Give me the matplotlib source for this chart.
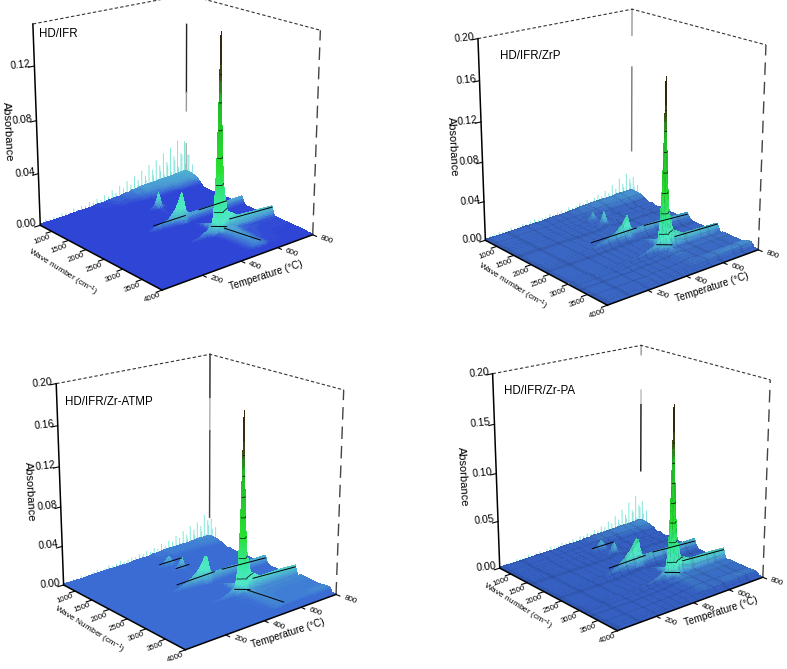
import numpy as np
import matplotlib
matplotlib.use('Agg')
import matplotlib.pyplot as plt
from matplotlib.colors import LinearSegmentedColormap
from mpl_toolkits.mplot3d import proj3d

plt.rcParams['font.family'] = ['Liberation Sans', 'DejaVu Sans']
plt.rcParams['mathtext.fontset'] = 'custom'
plt.rcParams['mathtext.rm'] = 'Liberation Sans'
plt.rcParams['mathtext.default'] = 'regular'

W, H = 787, 669
WMIN = 650

## shared grids
wave_grid = [650, 900, 1050, 1150, 1240, 1330, 1440, 1500, 1560, 2130, 2200, 2250, 2300, 2370, 2900, 2960, 3000, 3030,
             3060, 3100, 3160, 3300, 3600, 3800, 3860, 3900, 4000]
temp_grid = [0, 100, 200, 260, 300, 340, 380, 420, 450, 462, 472, 482, 490, 500, 512, 535, 590, 680, 720, 790, 800]
wave_ticks = [1000, 1500, 2000, 2500, 3000, 3500, 4000]
temp_ticks = [200, 400, 600, 800]

## cross sections of the bands along the wave number axis
edge_waves, edge_shape = [650, 900, 1050, 1240], [1.0, 0.85, 0.5, 0.1]
ester_waves, ester_shape = [1150, 1240, 1330], [0.2, 1.0, 0.2]
carb_waves, carb_shape = [1440, 1500, 1560], [0.25, 1.0, 0.25]
co2_waves, co2_shape = [2130, 2200, 2250, 2300, 2370], [0.1, 0.5, 1.0, 0.5, 0.1]
main_waves, main_shape = [2900, 2960, 3000, 3030, 3060, 3100, 3160], [0.06, 0.22, 0.65, 1.0, 0.65, 0.22, 0.06]
band_waves, band_shape = [3160, 3300, 3600, 3800, 3860, 3900], [1.0, 0.85, 0.75, 0.7, 0.7, 0.0]
water_waves, water_shape = [3600, 3800, 3860, 3900], [0.4, 1.0, 0.9, 0.1]

## HD/IFR, rows follow temp_grid
edge_1 = [.001, .001, .002, .002, .003, .003, .004, .004, .005, .005, .005, .006, .006, .006, .006, .007, .007, .008, .008, .009, .009]
ester_1 = [0, 0, 0, 0, 0, 0, 0, 0, 0, 0, 0, 0, 0, 0, 0, 0, 0, 0, 0, 0, 0]
carb_1 = [0, 0, 0, 0, 0, 0, .001, .003, .006, .010, .015, .010, .005, .004, .003, .002, .002, .002, .001, .001, .001]
co2_1 = [0, 0, .001, .002, .005, .006, .008, .015, .026, .018, .011, .009, .008, .008, .008, .008, .008, .008, .008, .008, .001]
main_1 = [.0005, .0005, .001, .001, .002, .003, .004, .007, .010, .018, .040, .085, .150, .085, .040, .018, .012, .011, .011, .010, .001]
band_1 = [0, 0, 0, 0, 0, 0, 0, .001, .002, .003, .004, .005, .006, .007, .008, .008, .004, .003, .003, .003, .001]
water_1 = [0, 0, 0, 0, 0, 0, 0, 0, 0, 0, 0, 0, 0, 0, 0, 0, 0, 0, 0, 0, 0]
spikes_1 = [.002, .004, .003, .004, .003, .005, .004, .004, .006, .004, .006, .005, .007, .006, .008, .006, .009, .007,
            .011, .008, .013, .010, .015, .011, .017, .013, .020, .015, .023, .018, .025, .020, .029, .021, .032, .024,
            .036, .025, .034, .022]
lines_1 = [(2250, 2250, 300, 470, .007, .007), (2250, 2250, 545, 700, .008, .008), (3030, 3030, 550, 790, .011, .009),
           (3030, 3200, 450, 496, .010, .010), (3100, 3860, 505, 535, .007, .007)]

## HD/IFR/ZrP
edge_2 = [.001, .001, .002, .002, .002, .003, .003, .003, .004, .004, .004, .004, .005, .005, .005, .005, .006, .006, .007, .007, .007]
ester_2 = [0, 0, 0, 0, 0, 0, .001, .003, .007, .011, .007, .003, .002, .002, .002, .002, .002, .002, .002, .002, .002]
carb_2 = [0, 0, 0, 0, 0, .001, .001, .002, .005, .010, .016, .010, .005, .004, .003, .003, .003, .003, .003, .003, .002]
co2_2 = [0, .001, .002, .003, .006, .008, .011, .017, .026, .017, .012, .010, .010, .010, .010, .010, .010, .010, .010, .009, .002]
main_2 = [.002, .002, .002, .003, .003, .004, .005, .008, .011, .020, .044, .090, .172, .090, .044, .020, .013, .012, .012, .011, .002]
band_2 = [.001, .001, .001, .001, .002, .002, .002, .003, .003, .004, .004, .005, .005, .005, .005, .004, .004, .004, .004, .004, .003]
water_2 = [.001, .001, .001, .001, .001, .001, .001, .001, .001, .001, .002, .002, .002, .002, .003, .004, .005, .006, .006, .007, .004]
spikes_2 = [.003, .004, .004, .005, .004, .004, .006, .004, .005, .006, .004, .006, .007, .005, .006, .006, .008, .006,
            .007, .008, .006, .009, .007, .008, .010, .008, .011, .008, .011, .013, .010, .015, .011, .019, .014, .024,
            .017, .027, .020, .021]
lines_2 = [(2250, 2250, 260, 500, .010, .010), (2250, 2250, 545, 790, .010, .007), (3030, 3030, 550, 790, .012, .010),
           (3030, 3200, 450, 496, .010, .010)]

## HD/IFR/Zr-ATMP
edge_3 = [.001, .001, .002, .002, .002, .002, .003, .003, .003, .003, .004, .004, .004, .004, .004, .005, .005, .005, .006, .006, .006]
ester_3 = [0, 0, 0, 0, 0, .001, .002, .006, .013, .010, .006, .005, .004, .003, .002, .002, .002, .002, .002, .002, .002]
carb_3 = [0, 0, 0, 0, 0, 0, .001, .003, .007, .011, .015, .009, .005, .004, .003, .003, .002, .002, .002, .002, .002]
co2_3 = [0, 0, .001, .003, .005, .008, .012, .019, .030, .028, .017, .012, .011, .011, .011, .011, .011, .011, .011, .011, .002]
main_3 = [.001, .001, .002, .002, .003, .004, .005, .008, .012, .022, .046, .095, .182, .095, .046, .022, .015, .015, .015, .014, .002]
band_3 = [.001, .001, .001, .001, .001, .002, .002, .003, .004, .004, .005, .006, .007, .007, .008, .007, .006, .006, .006, .006, .005]
water_3 = [0, 0, 0, 0, 0, 0, 0, 0, 0, .001, .001, .001, .002, .002, .003, .004, .005, .005, .006, .006, .005]
spikes_3 = [.003, .003, .004, .003, .005, .004, .003, .005, .006, .004, .005, .007, .005, .006, .008, .006, .007, .008,
            .007, .009, .008, .010, .008, .011, .009, .013, .010, .014, .012, .017, .014, .020, .015, .023, .018, .025,
            .020, .031, .024, .025]
lines_3 = [(2250, 2250, 300, 500, .010, .011), (2250, 2250, 545, 790, .011, .008), (3030, 3030, 550, 790, .015, .012),
           (1240, 1240, 400, 520, .007, .007), (1500, 1500, 440, 510, .005, .005), (3030, 3200, 450, 496, .010, .010),
           (3100, 3860, 505, 535, .007, .007)]

## HD/IFR/Zr-PA
edge_4 = [.001, .001, .002, .002, .002, .003, .003, .003, .003, .004, .004, .004, .004, .004, .005, .005, .005, .006, .006, .007, .007]
ester_4 = [0, 0, 0, 0, .001, .001, .002, .006, .013, .010, .006, .004, .003, .003, .002, .002, .002, .002, .002, .002, .002]
carb_4 = [0, 0, 0, 0, 0, 0, .001, .003, .006, .010, .014, .009, .005, .004, .003, .003, .003, .003, .002, .002, .002]
co2_4 = [0, 0, .001, .003, .005, .008, .014, .022, .032, .030, .019, .013, .012, .012, .012, .012, .012, .012, .012, .012, .002]
main_4 = [.001, .001, .002, .002, .003, .004, .005, .008, .012, .022, .046, .095, .178, .095, .046, .022, .016, .016, .016, .015, .002]
band_4 = [.001, .001, .001, .001, .001, .002, .002, .003, .004, .004, .005, .005, .006, .006, .006, .005, .005, .005, .005, .005, .004]
water_4 = [.001, .001, .001, .001, .001, .001, .001, .001, .002, .002, .002, .002, .003, .003, .003, .004, .004, .005, .005, .005, .003]
spikes_4 = [.003, .004, .004, .003, .005, .004, .004, .006, .004, .005, .006, .004, .006, .007, .005, .006, .008, .006,
            .007, .008, .006, .009, .008, .010, .008, .011, .009, .013, .011, .016, .013, .020, .015, .025, .018, .031,
            .021, .036, .025, .028]
lines_4 = [(2250, 2250, 300, 500, .010, .011), (2250, 2250, 545, 790, .012, .009), (3030, 3030, 550, 790, .016, .013),
           (1240, 1240, 400, 520, .007, .007), (3030, 3200, 450, 496, .010, .010)]

panels = [
    dict(title='HD/IFR', zmax=.15, zticks=[0, .04, .08, .12], wave_label='Wave number',
         rows=(edge_1, ester_1, carb_1, co2_1, main_1, band_1, water_1), spikes=spikes_1, lines=lines_1,
         base='#2f45d6', mesh=False,
         pillar=[(.073, .127, '#222222'), (.058, .073, '#999999'), (.004, .031, '#aaaaaa')],
         corners=[(40, 225), (160, 294), (313, 232), (33, 21), (186, 1), (323, 26)],
         title_xy=(39, 34), abs_xy=(8, 132), wave_xy=(62, 272), temp_xy=(266, 275)),
    dict(title='HD/IFR/ZrP', zmax=.20, zticks=[0, .04, .08, .12, .16, .20], wave_label='Wave number',
         rows=(edge_2, ester_2, carb_2, co2_2, main_2, band_2, water_2), spikes=spikes_2, lines=lines_2,
         base='#3a66c4', mesh=True,
         pillar=[(.173, .20, '#999999'), (.05, .14, '#777777')],
         corners=[(486, 238), (603, 310), (760, 248), (478, 35), (632, 16), (768, 41)],
         title_xy=(500, 56), abs_xy=(453, 147), wave_xy=(512, 286), temp_xy=(712, 287)),
    dict(title='HD/IFR/Zr-ATMP', zmax=.20, zticks=[0, .04, .08, .12, .16, .20], wave_label='Wave Number',
         rows=(edge_3, ester_3, carb_3, co2_3, main_3, band_3, water_3), spikes=spikes_3, lines=lines_3,
         base='#3a6cd4', mesh=False,
         pillar=[(.155, .20, '#222222'), (.12, .153, '#aaaaaa'), (.026, .12, '#444444')],
         corners=[(63, 583), (183, 653), (337, 595), (56, 380), (209, 361), (347, 385)],
         title_xy=(65, 402), abs_xy=(30, 492), wave_xy=(89, 630), temp_xy=(288, 633)),
    dict(title='HD/IFR/Zr-PA', zmax=.20, zticks=[0, .05, .10, .15, .20], wave_label='Wave number',
         rows=(edge_4, ester_4, carb_4, co2_4, main_4, band_4, water_4), spikes=spikes_4, lines=lines_4,
         base='#3560c2', mesh=True,
         pillar=[(.19, .20, '#999999'), (.136, .152, '#bbbbbb'), (.0625, .136, '#111111')],
         corners=[(495, 563), (613, 629), (769, 573), (487, 374), (642, 357), (778, 379)],
         title_xy=(504, 391), abs_xy=(463, 477), wave_xy=(517, 606), temp_xy=(721, 611)),
]

fig = plt.figure(figsize=(W / 100, H / 100), dpi=100)


def build_surface(rows):
    z = np.zeros((len(wave_grid), len(temp_grid))) + .0005
    sections = [(edge_waves, edge_shape), (ester_waves, ester_shape), (carb_waves, carb_shape), (co2_waves, co2_shape),
                (main_waves, main_shape), (band_waves, band_shape), (water_waves, water_shape)]
    for (ws, shape), row in zip(sections, rows):
        for w, f in zip(ws, shape):
            i = wave_grid.index(w)
            z[i] = np.maximum(z[i], f * np.array(row))
    return z


def subdivide(a, n):
    # only so that one long facet can carry several colours
    idx = np.linspace(0, len(a) - 1, (len(a) - 1) * n + 1)
    return np.interp(idx, np.arange(len(a)), a)


def to_px(ax, x, y, z):
    xs, ys, _ = proj3d.proj_transform(np.array(x, float), np.array(y, float), np.array(z, float), ax.get_proj())
    return ax.transData.transform(np.column_stack([xs, ys]))


def fit_axes(ax, corners, zmax):
    # moves and scales the square axes so the box lands on its pixel corners
    target = np.array(corners, float)
    target[:, 1] = H - target[:, 1]
    px = [WMIN, 4000, 4000, WMIN, WMIN, 4000]
    py = [0, 0, 800, 0, 800, 800]
    pz = [0, 0, 0, zmax, zmax, zmax]
    for _ in range(4):
        ax.apply_aspect()
        got = to_px(ax, px, py, pz)
        scale = np.ptp(target, axis=0).mean() / np.ptp(got, axis=0).mean()
        pos = ax.get_position(original=True)
        size = pos.width * W * scale
        shift = (target - got).mean(axis=0)
        cx = (pos.x0 + pos.width / 2) * W + shift[0]
        cy = (pos.y0 + pos.height / 2) * H + shift[1]
        ax.set_position([(cx - size / 2) / W, (cy - size / 2) / H, size / W, size / H])
    ax.apply_aspect()


def put_text(ax, x, y, z, dx, dy, s, **kw):
    pt = to_px(ax, [x], [y], [z])[0]
    fig.text((pt[0] + dx) / W, (pt[1] + dy) / H, s, ha=kw.pop('ha', 'center'), va='center', **kw)


for p in panels:
    ax = fig.add_axes([0.1, 0.1, 0.4, 0.4 * W / H], projection='3d', computed_zorder=False)
    ax.set_proj_type('persp', focal_length=0.7)
    ax.view_init(elev=19, azim=-40)
    ax.set_box_aspect((1, 1, 1.08))
    ax.set_xlim(WMIN, 4000)
    ax.set_ylim(0, 800)
    ax.set_zlim(0, p['zmax'])
    ax.set_axis_off()
    ax.patch.set_alpha(0)
    zmax = p['zmax']

    # spikes along the low wave number edge, two rows of them
    ts = np.linspace(0, 800, len(p['spikes']))
    for t, h in zip(ts, p['spikes']):
        ax.plot([700, 700], [t, t], [0, h * .25], color=p['base'], lw=.8, zorder=1)
        ax.plot([700, 700], [t, t], [h * .25, h], color='#80e8d8', lw=.7, zorder=1)
    for t, h in zip(ts[:-1] + 10, p['spikes'][1:]):
        ax.plot([880, 880], [t, t], [h * .3, h * .75], color='#78dcdc', lw=.6, zorder=1)

    z = build_surface(p['rows'])
    n = 5
    wf = subdivide(wave_grid, n)
    tf = subdivide(temp_grid, n)
    zf = np.array([subdivide(col, n) for col in z.T]).T
    zf = np.array([subdivide(row, n) for row in zf])
    T, Wv = np.meshgrid(tf, wf)

    peak = z.max()
    stops = np.array([0, .002, .006, .014, .030, .055, .105, .125, .145]) / .145
    cols = [p['base'], p['base'], '#4a9cd4', '#50e8c8', '#38e8a0', '#28e030', '#22b828', '#404018', '#2a0c08']
    cmap = LinearSegmentedColormap.from_list('abs', list(zip(stops, cols)))
    zc = (zf[:-1, :-1] + zf[1:, :-1] + zf[:-1, 1:] + zf[1:, 1:]) / 4
    faces = cmap(zc / peak)
    if p['mesh']:
        faces[::n, :, :3] *= .92
        faces[:, ::n, :3] *= .92
    ax.plot_surface(Wv, T, zf, facecolors=faces, rstride=1, cstride=1, shade=False,
                    antialiased=False, linewidth=0, zorder=2)

    # contour arcs on the front of the big peak and the lines along the ridges
    i0, i1 = wave_grid.index(3030) * n, wave_grid.index(3160) * n + 1
    ax.contour(Wv[i0:i1], T[i0:i1], zf[i0:i1], levels=[.02, .04, .06, .08, .10, .12, .14], colors='k', linewidths=.5, zorder=3)
    for w0, w1, t0, t1, z0, z1 in p['lines']:
        ax.plot([w0, w1], [t0, t1], [z0, z1], color='k', lw=.7, zorder=3)

    # box lines
    ax.plot([WMIN, WMIN], [0, 0], [0, zmax], color='k', lw=1.1, zorder=4)
    ax.plot([WMIN, 4000], [0, 0], [0, 0], color='k', lw=1.1, zorder=4)
    ax.plot([4000, 4000], [0, 800], [0, 0], color='k', lw=1.1, zorder=4)
    ax.plot([4000, 4000], [800, 800], [0, zmax], color='#444444', lw=1, dashes=(9, 5), zorder=4)
    ax.plot([WMIN, WMIN, 4000], [0, 800, 800], [zmax, zmax, zmax], color='#333333', lw=.8, dashes=(3, 2), zorder=4)
    for a, b, c in p['pillar']:
        ax.plot([WMIN, WMIN], [800, 800], [a, b], color=c, lw=1, zorder=1)

    # ticks
    for zt in p['zticks']:
        ax.plot([WMIN, WMIN], [0, -28], [zt, zt], color='k', lw=.8, zorder=4)
    for w in wave_ticks:
        ax.plot([w, w], [0, -28], [0, 0], color='k', lw=.8, zorder=4)
    for t in temp_ticks:
        ax.plot([4000, 4090], [t, t], [0, 0], color='k', lw=.8, zorder=4)

    fit_axes(ax, p['corners'], zmax)

    for zt in p['zticks']:
        put_text(ax, WMIN, 0, zt, -3, 1, f'{zt:.2f}', ha='right', fontsize=7.5, rotation=6)
    for w in wave_ticks:
        put_text(ax, w, 0, 0, -10, -8, str(w), fontsize=5.6, rotation=20)
    for t in temp_ticks:
        put_text(ax, 4000, t, 0, 14, -5, str(t), fontsize=5.8, rotation=-20)

    fig.text(p['title_xy'][0] / W, 1 - p['title_xy'][1] / H, p['title'], fontsize=8.3, ha='left', va='center')
    fig.text(p['abs_xy'][0] / W, 1 - p['abs_xy'][1] / H, 'Absorbance', fontsize=8, rotation=-87, ha='center', va='center')
    fig.text(p['wave_xy'][0] / W, 1 - p['wave_xy'][1] / H, p['wave_label'] + ' (cm$^{-1}$)', fontsize=6, rotation=-32,
             ha='center', va='center')
    fig.text(p['temp_xy'][0] / W, 1 - p['temp_xy'][1] / H, 'Temperature (°C)', fontsize=7.2, rotation=18,
             ha='center', va='center')

fig.savefig('out.png', dpi=100)
